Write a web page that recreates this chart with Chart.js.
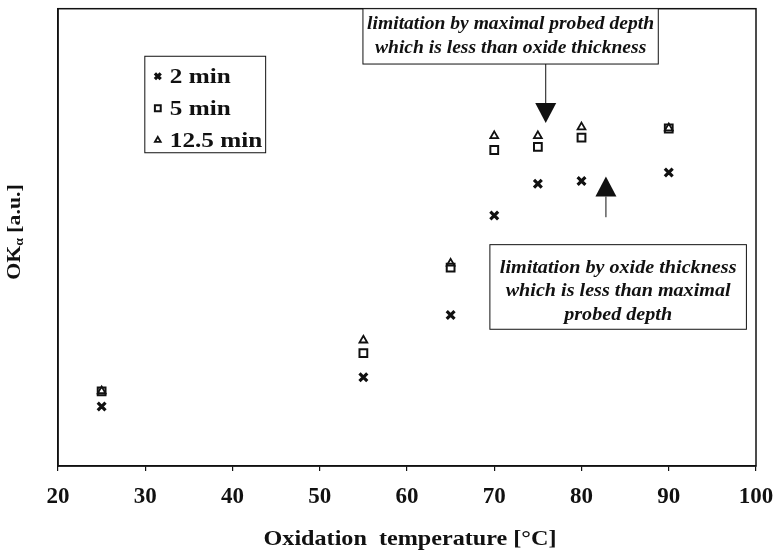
<!DOCTYPE html>
<html>
<head>
<meta charset="utf-8">
<script src="https://cdn.jsdelivr.net/npm/chart.js@4.4.1/dist/chart.umd.min.js"></script>
<style>
  html, body { margin: 0; padding: 0; background: #fff; }
  #wrap { width: 775px; height: 554px; }
</style>
</head>
<body>
<div id="wrap"><canvas id="chart" width="775" height="554"></canvas></div>
<script>
// ── Data (y in arbitrary units 0..100) ───────────────────────────────────────
const temperatures = [25, 55, 65, 70, 75, 80, 90];
const ok2min  = [13.0, 19.4, 33.0, 54.8, 61.7, 62.3, 64.2];
const ok5min  = [16.3, 24.7, 43.4, 69.1, 69.8, 71.8, 73.8];
const ok12min = [16.4, 27.5, 44.3, 72.2, 72.2, 74.1, 73.9];
const seriesLabels = ["2 min", "5 min", "12.5 min"];
const xTicks = [20, 30, 40, 50, 60, 70, 80, 90, 100];

const xTitle = "Oxidation  temperature [°C]";
const noteTop    = ["limitation by maximal probed depth", "which is less than oxide thickness"];
const noteBottom = ["limitation by oxide thickness", "which is less than maximal", "probed depth"];

// ── Styles ───────────────────────────────────────────────────────────────────
const INK   = "#111";
const SERIF = "'Liberation Serif', 'Times New Roman', serif";

const markers = [
  { pointStyle: "crossRot", radius: 5.5, borderWidth: 3.2 },
  { pointStyle: "rect",     radius: 5.5, borderWidth: 2 },
  { pointStyle: "triangle", radius: 4.5, borderWidth: 1.8 },
];

// annotation placement, in data units
const legendBox = { x0: 29.95, x1: 43.8, y0: 68.5, y1: 89.6 };
const noteBoxes = [
  { lines: noteTop,    x0: 54.95, x1: 88.8, y0: 87.9, y1: 100,  first: 15, gap: 24, sx: 1.03 },
  { lines: noteBottom, x0: 69.5,  x1: 98.9, y0: 29.9, y1: 48.4, first: 23, gap: 23.5, sx: 1.06 },
];
const arrows = [
  { x: 75.9, from: 87.9, to: 75.0 },
  { x: 82.8, from: 54.4, to: 63.3 },
];

function pts(values) {
  return temperatures.map((t, i) => ({ x: t, y: values[i] }));
}

function stretchedText(ctx, text, x, y, align, sx) {
  ctx.save();
  ctx.translate(x, y);
  ctx.scale(sx, 1);
  ctx.textAlign = align || "center";
  ctx.fillText(text, 0, 0);
  ctx.restore();
}

function drawMarker(ctx, m, x, y, scale) {
  ctx.save();
  ctx.strokeStyle = INK;
  ctx.fillStyle = "rgba(0,0,0,0)";
  ctx.lineWidth = m.borderWidth;
  if (Chart.helpers && Chart.helpers.drawPoint) {
    Chart.helpers.drawPoint(ctx, {
      pointStyle: m.pointStyle, radius: m.radius * scale,
      rotation: 0, borderWidth: m.borderWidth,
    }, x, y);
  }
  ctx.restore();
}

// ── Decorations: frame, legend, notes, arrows, axis titles ───────────────────
const decorations = {
  id: "decorations",
  afterDraw(chart) {
    const { ctx, chartArea: a, scales: { x, y } } = chart;
    ctx.save();

    // frame (top + right)
    ctx.strokeStyle = INK;
    ctx.lineWidth = 1.5;
    ctx.strokeRect(a.left, a.top, a.right - a.left, a.bottom - a.top);

    // legend
    const lx0 = x.getPixelForValue(legendBox.x0), lx1 = x.getPixelForValue(legendBox.x1);
    const ly0 = y.getPixelForValue(legendBox.y1), ly1 = y.getPixelForValue(legendBox.y0);
    ctx.lineWidth = 1;
    ctx.strokeRect(lx0, ly0, lx1 - lx0, ly1 - ly0);
    ctx.font = "bold 21px " + SERIF;
    ctx.textBaseline = "middle";
    seriesLabels.forEach((lab, i) => {
      const cy = ly0 + 20 + i * 32;
      drawMarker(ctx, markers[i], lx0 + 13, cy, 0.75);
      ctx.fillStyle = INK;
      stretchedText(ctx, lab, lx0 + 25, cy + 1, "left", 1.2);
    });

    // note boxes
    ctx.font = "italic bold 19px " + SERIF;
    noteBoxes.forEach((b) => {
      const bx0 = x.getPixelForValue(b.x0), bx1 = x.getPixelForValue(b.x1);
      const by0 = y.getPixelForValue(b.y1), by1 = y.getPixelForValue(b.y0);
      ctx.lineWidth = 1;
      ctx.fillStyle = "#fff";
      ctx.fillRect(bx0, by0, bx1 - bx0, by1 - by0);
      ctx.strokeRect(bx0, by0, bx1 - bx0, by1 - by0);
      ctx.fillStyle = INK;
      b.lines.forEach((ln, i) => stretchedText(ctx, ln, (bx0 + bx1) / 2, by0 + b.first + i * b.gap, "center", b.sx));
    });

    // arrows
    arrows.forEach((ar) => {
      const px = x.getPixelForValue(ar.x);
      const p0 = y.getPixelForValue(ar.from), tip = y.getPixelForValue(ar.to);
      const dir = Math.sign(tip - p0);
      const base = tip - dir * 20;
      ctx.lineWidth = 1;
      ctx.beginPath();
      ctx.moveTo(px, p0);
      ctx.lineTo(px, base);
      ctx.stroke();
      ctx.beginPath();
      ctx.moveTo(px - 10.5, base);
      ctx.lineTo(px + 10.5, base);
      ctx.lineTo(px, tip);
      ctx.closePath();
      ctx.fill();
    });

    // x title
    ctx.font = "bold 21px " + SERIF;
    ctx.textBaseline = "middle";
    stretchedText(ctx, xTitle, (a.left + a.right) / 2 + 3, 540, "center", 1.15);

    // y title: OKα [a.u.]
    ctx.translate(15, 232);
    ctx.rotate(-Math.PI / 2);
    ctx.scale(1.15, 1);
    const big = "bold 19px " + SERIF, small = "bold 12px " + SERIF;
    ctx.font = big;
    const wOK = ctx.measureText("OK").width;
    const wRest = ctx.measureText(" [a.u.]").width;
    ctx.font = small;
    const wA = ctx.measureText("α").width;
    let cx = -(wOK + wA + wRest) / 2;
    ctx.textAlign = "left";
    ctx.font = big;
    ctx.fillText("OK", cx, 0);
    cx += wOK;
    ctx.font = small;
    ctx.fillText("α", cx, 5);
    cx += wA;
    ctx.font = big;
    ctx.fillText(" [a.u.]", cx, 0);

    ctx.restore();
  },
};

// ── Chart ────────────────────────────────────────────────────────────────────
const datasets = [ok2min, ok5min, ok12min].map((vals, i) => ({
  label: seriesLabels[i],
  data: pts(vals),
  pointStyle: markers[i].pointStyle,
  pointRadius: markers[i].radius,
  pointBorderWidth: markers[i].borderWidth,
  borderColor: INK,
  backgroundColor: "rgba(0,0,0,0)",
  showLine: false,
}));

new Chart(document.getElementById("chart").getContext("2d"), {
  type: "scatter",
  data: { datasets },
  options: {
    responsive: false,
    animation: false,
    layout: { padding: { top: 3, right: 19, left: 0, bottom: 0 } },
    plugins: { legend: { display: false }, tooltip: { enabled: false } },
    scales: {
      x: {
        type: "linear",
        min: 20, max: 100,
        afterBuildTicks: (s) => { s.ticks = xTicks.map((v) => ({ value: v })); },
        afterFit: (s) => { s.height = 88; s.paddingLeft = 0; s.paddingRight = 0; },
        ticks: { color: INK, padding: 12, font: { family: SERIF, size: 23, weight: "bold" } },
        grid: { drawOnChartArea: false, drawTicks: true, tickLength: 5, color: INK, lineWidth: 1.2 },
        border: { color: INK, width: 1.5 },
        title: { display: false },
      },
      y: {
        min: 0, max: 100,
        afterFit: (s) => { s.width = 58; s.paddingTop = 0; s.paddingBottom = 0; },
        ticks: { display: false },
        grid: { display: false },
        border: { color: INK, width: 1.5 },
        title: { display: false },
      },
    },
  },
  plugins: [decorations],
});
</script>
</body>
</html>
